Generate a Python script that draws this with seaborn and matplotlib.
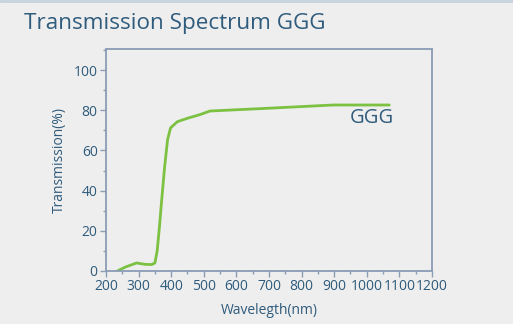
import matplotlib
matplotlib.use("Agg")
import matplotlib.pyplot as plt
import seaborn as sns
import pandas as pd
from matplotlib.ticker import MultipleLocator

wavelength = [235, 260, 294, 320, 340, 350, 357, 364, 371, 380, 389, 398, 419, 450, 488, 519, 700, 897, 1069]
transmission = [0.0, 2.0, 4.0, 3.3, 3.2, 4.0, 10.0, 22.0, 35.6, 52.0, 65.4, 71.2, 74.3, 76.0, 77.8, 79.6, 81.0, 82.6, 82.6]
series_label = "GGG"
title = "Transmission Spectrum GGG"
x_ticks = list(range(200, 1201, 100))
y_ticks = [0, 20, 40, 60, 80, 100]

df = pd.DataFrame({"Wavelength": wavelength, "Transmission": transmission})

sns.set_style("ticks")
plt.rcParams['font.family'] = ['Open Sans', 'DejaVu Sans']

bg = "#eeeeee"
text_c = "#2f5b7c"
spine_c = "#8a9db5"
line_c = "#7cc142"

fig = plt.figure(figsize=(5.13, 3.24), dpi=100, facecolor=bg)
ax = fig.add_axes([0.2066, 0.1636, 0.8421 - 0.2066, 0.849 - 0.1636])
ax.set_facecolor(bg)

sns.lineplot(data=df, x="Wavelength", y="Transmission", ax=ax, color=line_c, linewidth=2.0)

ax.set_xlim(200, 1200)
ax.set_ylim(0, 110.5)
ax.set_xticks(x_ticks)
ax.set_yticks(y_ticks)
ax.xaxis.set_minor_locator(MultipleLocator(50))
ax.yaxis.set_minor_locator(MultipleLocator(10))
ax.tick_params(axis='both', which='major', direction='out', length=4, width=1, color=spine_c, labelcolor=text_c, labelsize=10, pad=2)
ax.tick_params(axis='both', which='minor', direction='out', length=2.5, width=1, color=spine_c)
for s in ax.spines.values():
    s.set_visible(True)
    s.set_color(spine_c)
    s.set_linewidth(1.3)

ax.set_xlabel("Wavelegth(nm)", color=text_c, fontsize=10, labelpad=6)
ax.set_ylabel("Transmission(%)", color=text_c, fontsize=10, labelpad=5)

ax.text(1017, 76, series_label, color=text_c, fontsize=14.5, ha='center', va='center')

fig.text(24 / 513, 1 - 23 / 324, title, color=text_c, fontsize=16.2, ha='left', va='center')
fig.add_artist(plt.Line2D([0, 1], [0.997, 0.997], transform=fig.transFigure, color="#c5d3df", linewidth=2))

fig.savefig("out.png", dpi=100, facecolor=bg)
